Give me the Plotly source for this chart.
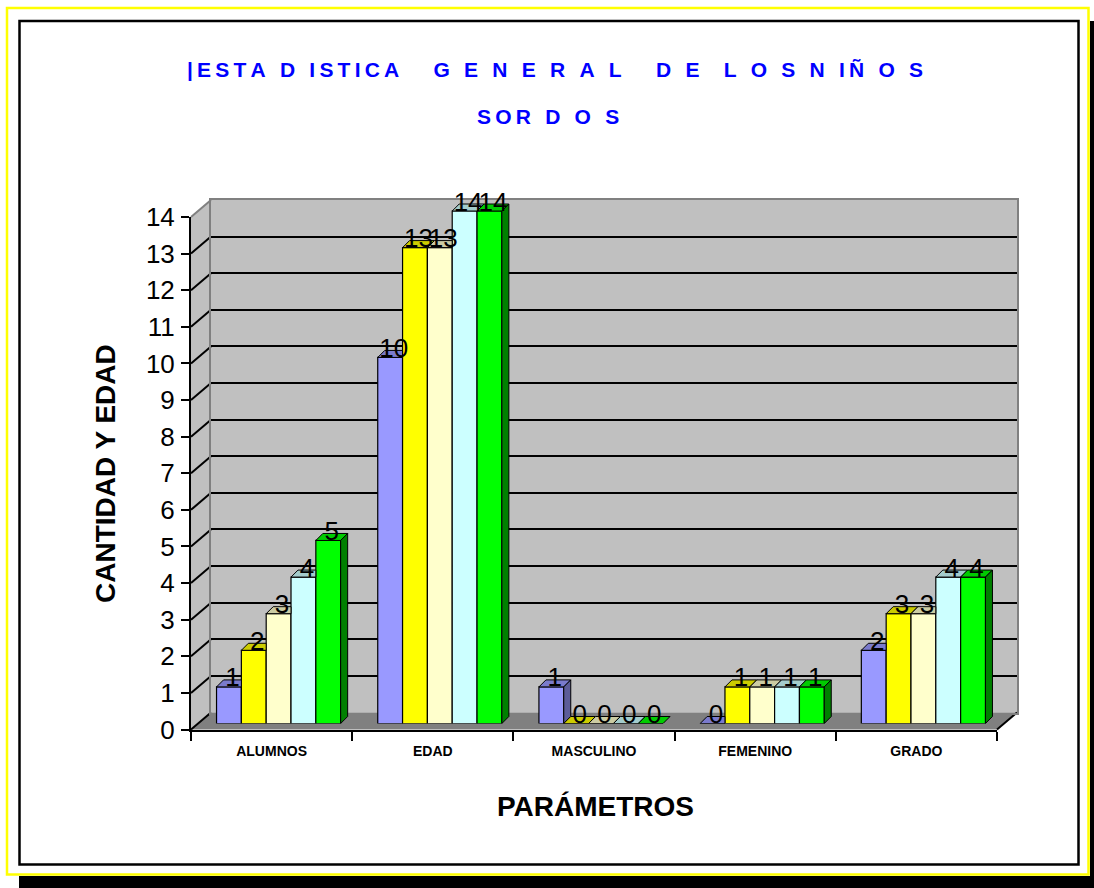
import plotly.graph_objects as go

# ---------------- data ----------------
categories = ["ALUMNOS", "EDAD", "MASCULINO", "FEMENINO", "GRADO"]
serie_1 = [1, 10, 1, 0, 2]
serie_2 = [2, 13, 0, 1, 3]
serie_3 = [3, 13, 0, 1, 3]
serie_4 = [4, 14, 0, 1, 4]
serie_5 = [5, 14, 0, 1, 4]
series = [serie_1, serie_2, serie_3, serie_4, serie_5]
y_ticks = list(range(0, 15))
title_line1 = "|ESTA D ISTICA   G E N E R A L   D E  L O S N IÑ O S"
title_line2 = "SOR D O S"
y_title = "CANTIDAD Y EDAD"
x_title = "PARÁMETROS"

# ---------------- styles ----------------
front_cols = ["#9999FF", "#FFFF00", "#FFFFCC", "#CCFFFF", "#00FF00"]
top_cols = ["#7A7ACC", "#CCCC00", "#CCCCA3", "#A3CCCC", "#00CC00"]
side_cols = ["#5C5C99", "#999900", "#99997A", "#7A9999", "#008000"]

W, H = 1094, 888
FX0, FX1 = 191.0, 997.0          # front plane x extent (px)
FYB, FYT = 729.5, 217.0          # front plane y for 0 and 14 (px)
YMAX = 14
PPU_Y = (FYB - FYT) / YMAX       # px per unit (y)
PPU_X = (FX1 - FX0) / 5.0        # px per category (x)
WALL_DX, WALL_DY = 20.0, 17.0    # back wall offset
BAR_DX, BAR_DY = 7.0, 6.0        # bar plane offset
DEPTH_DX, DEPTH_DY = 7.0, 7.0    # bar depth
BAR_W = 0.154
N_S = len(series)


def px(x):
    return x / W


def py(y):
    return 1 - y / H


def spaced(s):
    # emulate the wide letter spacing of the original title with thin spaces
    return "\u2009".join(list(s))


ARIAL = "Liberation Sans, Arial, sans-serif"

fig = go.Figure()

fig.add_trace(go.Scatter(x=[None], y=[None], xaxis="x", yaxis="y", showlegend=False, hoverinfo="skip"))

# ---------- bars (front faces) ----------
for i, vals in enumerate(series):
    fig.add_trace(go.Bar(
        x=list(range(len(categories))), y=vals, base=0,
        offset=-BAR_W * N_S / 2 + i * BAR_W, width=BAR_W,
        marker=dict(color=front_cols[i], line=dict(color="black", width=1.2)),
        xaxis="x2", yaxis="y2", showlegend=False, hoverinfo="skip",
    ))

dxu = DEPTH_DX / PPU_X
dyu = DEPTH_DY / PPU_Y

# ---------- top and side faces ----------
for i, vals in enumerate(series):
    tx, ty, sx, sy = [], [], [], []
    for k, v in enumerate(vals):
        xl = k - BAR_W * N_S / 2 + i * BAR_W
        xr = xl + BAR_W
        nxt = series[i + 1][k] if i + 1 < N_S else None
        if nxt is not None and nxt > v:
            tx += [xl, xr, xr, xl + dxu, xl, None]
            ty += [v, v, v + dyu, v + dyu, v, None]
        else:
            tx += [xl, xr, xr + dxu, xl + dxu, xl, None]
            ty += [v, v, v + dyu, v + dyu, v, None]
        lo = 0 if nxt is None else nxt
        if lo < v:
            sx += [xr, xr, xr + dxu, xr + dxu, xr, None]
            sy += [lo, v, v + dyu, lo + dyu, lo, None]
    fig.add_trace(go.Scatter(x=tx, y=ty, mode="lines", fill="toself", fillcolor=top_cols[i],
                             line=dict(color="black", width=1), xaxis="x2", yaxis="y2",
                             showlegend=False, hoverinfo="skip"))
    if sx:
        fig.add_trace(go.Scatter(x=sx, y=sy, mode="lines", fill="toself", fillcolor=side_cols[i],
                                 line=dict(color="black", width=1), xaxis="x2", yaxis="y2",
                                 showlegend=False, hoverinfo="skip"))

# ---------- data labels ----------
for i, vals in enumerate(series):
    xs = [k - BAR_W * N_S / 2 + i * BAR_W + BAR_W / 2 + dxu / 2 for k in range(len(vals))]
    ys = [v + dyu for v in vals]
    fig.add_trace(go.Scatter(x=xs, y=ys, mode="text", text=[str(v) for v in vals],
                             textposition="middle center", cliponaxis=False,
                             textfont=dict(family=ARIAL, size=26, color="black"),
                             xaxis="x2", yaxis="y2", showlegend=False, hoverinfo="skip"))

fig.add_trace(go.Scatter(x=[None], y=[None], xaxis="x3", yaxis="y3", showlegend=False, hoverinfo="skip"))

# ---------- axes ----------
hidden = dict(showgrid=False, zeroline=False, showticklabels=False, showline=False, ticks="")

fig.update_layout(
    # back wall
    xaxis=dict(domain=[px(FX0 + WALL_DX), px(FX1 + WALL_DX)], range=[-0.5, 4.5], anchor="y",
               showgrid=False, zeroline=False, showticklabels=False, ticks="",
               showline=True, mirror=True, linecolor="#808080", linewidth=2),
    yaxis=dict(domain=[py(FYB - WALL_DY), py(FYT - WALL_DY)], range=[0, YMAX], anchor="x",
               tickmode="array", tickvals=y_ticks[1:-1], showgrid=True, gridcolor="black", gridwidth=2,
               zeroline=False, showticklabels=False, ticks="",
               showline=True, mirror=True, linecolor="#808080", linewidth=2),
    # bar plane
    xaxis2=dict(domain=[px(FX0 + BAR_DX), px(FX1 + BAR_DX)], range=[-0.5, 4.5], anchor="y2", **hidden),
    yaxis2=dict(domain=[py(FYB - BAR_DY), py(FYB - BAR_DY - 15 * PPU_Y)], range=[0, 15], anchor="x2", **hidden),
    # front plane (visible axes)
    xaxis3=dict(domain=[px(FX0), px(FX1)], range=[-0.5, 4.5], anchor="y3",
                tickmode="array", tickvals=list(range(len(categories))), ticktext=categories,
                ticks="", showgrid=False, zeroline=False,
                showline=True, linecolor="black", linewidth=2,
                tickfont=dict(family=ARIAL, size=14, color="black", weight="bold"),
                ticklabelstandoff=8,
                minor=dict(tickmode="array", tickvals=[k - 0.5 for k in range(len(categories) + 1)],
                           ticks="outside", ticklen=9, tickwidth=2, tickcolor="black", showgrid=False)),
    yaxis3=dict(domain=[py(FYB), py(FYT)], range=[0, YMAX], anchor="x3",
                tickmode="array", tickvals=y_ticks, ticks="outside", ticklen=8, tickwidth=2,
                tickcolor="black", showgrid=False, zeroline=False,
                showline=True, linecolor="black", linewidth=2,
                tickfont=dict(family=ARIAL, size=26, color="black"), ticklabelstandoff=1),
)

# ---------- decorative shapes (walls, floor, frame) ----------
shapes = []
shapes.append(dict(type="rect", xref="paper", yref="paper", layer="below",
                   x0=px(FX0 + WALL_DX), x1=px(FX1 + WALL_DX), y0=py(FYB - WALL_DY), y1=py(FYT - WALL_DY),
                   fillcolor="#C0C0C0", line=dict(width=0)))
shapes.append(dict(type="path", xref="paper", yref="paper", layer="below",
                   path=f"M {px(FX0)} {py(FYB)} L {px(FX0)} {py(FYT)} L {px(FX0 + WALL_DX)} {py(FYT - WALL_DY)} "
                        f"L {px(FX0 + WALL_DX)} {py(FYB - WALL_DY)} Z",
                   fillcolor="#C0C0C0", line=dict(width=0)))
shapes.append(dict(type="path", xref="paper", yref="paper", layer="below",
                   path=f"M {px(FX0)} {py(FYB)} L {px(FX1)} {py(FYB)} L {px(FX1 + WALL_DX)} {py(FYB - WALL_DY)} "
                        f"L {px(FX0 + WALL_DX)} {py(FYB - WALL_DY)} Z",
                   fillcolor="#808080", line=dict(width=0)))
shapes.append(dict(type="line", xref="paper", yref="paper", layer="below",
                   x0=px(FX1), y0=py(FYB), x1=px(FX1 + WALL_DX), y1=py(FYB - WALL_DY),
                   line=dict(color="black", width=2)))
for t in y_ticks:
    yy = FYB - t * PPU_Y
    shapes.append(dict(type="line", xref="paper", yref="paper", layer="below",
                       x0=px(FX0), y0=py(yy), x1=px(FX0 + WALL_DX), y1=py(yy - WALL_DY),
                       line=dict(color="#808080" if t == YMAX else "black", width=2)))
# outer frames and shadow
shapes.append(dict(type="rect", xref="paper", yref="paper", x0=px(1090), x1=px(1094), y0=py(21), y1=py(888),
                   fillcolor="black", line=dict(width=0), layer="below"))
shapes.append(dict(type="rect", xref="paper", yref="paper", x0=px(19), x1=px(1094), y0=py(876), y1=py(888),
                   fillcolor="black", line=dict(width=0), layer="below"))
shapes.append(dict(type="rect", xref="paper", yref="paper", x0=px(7), x1=px(1088.5), y0=py(8), y1=py(874.5),
                   line=dict(color="#FFFF00", width=2.5), layer="below"))
shapes.append(dict(type="rect", xref="paper", yref="paper", x0=px(19.5), x1=px(1078.5), y0=py(21), y1=py(864.5),
                   line=dict(color="black", width=2.5), layer="below"))

annotations = [
    dict(text=spaced(title_line1), x=px(555), y=py(70), xref="paper", yref="paper", showarrow=False,
         xanchor="center", yanchor="middle",
         font=dict(family=ARIAL, size=21, color="#0000FF", weight="bold")),
    dict(text=spaced(title_line2), x=px(548), y=py(116), xref="paper", yref="paper", showarrow=False,
         xanchor="center", yanchor="middle",
         font=dict(family=ARIAL, size=21, color="#0000FF", weight="bold")),
    dict(text=y_title, x=px(105), y=py(474), xref="paper", yref="paper", showarrow=False,
         textangle=-90, xanchor="center", yanchor="middle",
         font=dict(family=ARIAL, size=28, color="black", weight="bold")),
    dict(text=x_title, x=px(596), y=py(806), xref="paper", yref="paper", showarrow=False,
         xanchor="center", yanchor="middle",
         font=dict(family=ARIAL, size=28, color="black", weight="bold")),
]

fig.update_layout(
    width=W, height=H, autosize=False,
    margin=dict(l=0, r=0, t=0, b=0, pad=0, autoexpand=False),
    paper_bgcolor="white", plot_bgcolor="rgba(0,0,0,0)",
    barmode="overlay", showlegend=False,
    shapes=shapes, annotations=annotations,
)

fig.write_html("out.html", config={"displayModeBar": False},
               post_script="document.body.style.margin='0';")
